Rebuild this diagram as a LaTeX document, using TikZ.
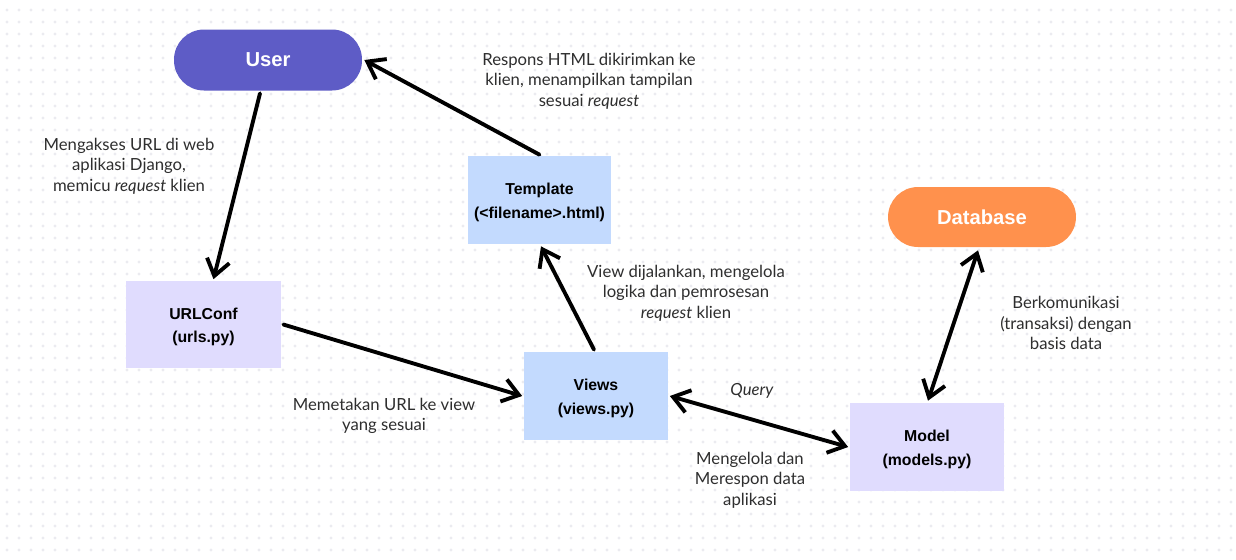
\documentclass[tikz,border=0pt]{standalone}
\usepackage{fontspec}
\setmainfont{Lato}
\newfontfamily\boxfont{Liberation Sans}
\usetikzlibrary{arrows.meta}

\definecolor{userc}{HTML}{5E5CC6}
\definecolor{dbc}{HTML}{FF914D}
\definecolor{bluec}{HTML}{C3DAFE}
\definecolor{lavc}{HTML}{E0DCFE}
\definecolor{dotc}{HTML}{EBEBF0}
\definecolor{txtc}{HTML}{2E2E2E}

\tikzset{
  pill/.style={rectangle, rounded corners=0.6cm, text=white, font=\boxfont\fontsize{11.5}{13}\selectfont\bfseries, inner sep=0pt},
  box/.style={rectangle, align=center, text=black, font=\boxfont\fontsize{9}{13.2}\selectfont\bfseries, inner sep=0pt},
  lbl/.style={align=center, text=txtc, font=\fontsize{9.5}{11.6}\selectfont},
  arr/.style={line width=2.2pt, line cap=round, line join=round, -{Straight Barb[length=3.2mm,width=4.6mm]}},
  arrboth/.style={arr, {Straight Barb[length=3.2mm,width=4.6mm]}-{Straight Barb[length=3.2mm,width=4.6mm]}}
}

\begin{document}
\begin{tikzpicture}[x=0.02cm, y=-0.02cm]
    \useasboundingbox (0,0) rectangle (1236,559);
    \fill[white] (0,0) rectangle (1236,559);
    % background dots
    \foreach \i in {0,...,102}
      \foreach \j in {0,...,45}
        \fill[dotc] (7+12*\i, 10+12*\j) circle (0.032cm);

    \begin{scope}
        \node[pill, fill=userc, minimum width=3.76cm, minimum height=1.22cm] (user) at (268,60) {User};
        \node[pill, fill=dbc, minimum width=3.76cm, minimum height=1.2cm] (database) at (982,217) {Database};

        \node[box, fill=bluec, minimum width=2.86cm, minimum height=1.76cm] (template) at (539.5,200) {\strut Template\\(<filename>.html)};
        \node[box, fill=lavc, minimum width=3.1cm, minimum height=1.74cm] (urlconf) at (203.5,324.5) {\strut URLConf\\(urls.py)};
        \node[box, fill=bluec, minimum width=2.88cm, minimum height=1.76cm] (views) at (596,396) {\strut Views\\(views.py)};
        \node[box, fill=lavc, minimum width=3.08cm, minimum height=1.76cm] (model) at (927,447) {\strut Model\\(models.py)};

        \draw[arr] ([xshift=-0.16cm,yshift=-0.05cm]user.south) -- ([xshift=0.2cm,yshift=0.03cm]urlconf.north); % user ke urlconf
        \draw[arr] ([xshift=0.04cm]urlconf.east) -- ([xshift=-0.03cm]views.west); % urlconf ke views
        \draw[arr] ([xshift=-0.04cm,yshift=0.04cm]views.north) -- ([xshift=0.03cm,yshift=-0.04cm]template.south); % views ke template
        \draw[arr] ([yshift=0.02cm]template.north) -- ([xshift=0.04cm]user.east); % template ke user
        \draw[arrboth] ([xshift=0.03cm]views.east) -- ([xshift=-0.03cm]model.west); % views dan model
        \draw[arrboth] ([xshift=-0.08cm,yshift=-0.06cm]database.south) -- ([xshift=0.02cm,yshift=0.04cm]model.north); % database dan model

        \node[lbl] (l-akses) at (129,166) {Mengakses URL di web\\aplikasi Django,\\memicu \textit{request} klien};
        \node[lbl] (l-respons) at (589,81) {Respons HTML dikirimkan ke\\klien, menampilkan tampilan\\sesuai \textit{request}};
        \node[lbl] (l-view) at (686,293) {View dijalankan, mengelola\\logika dan pemrosesan\\\textit{request} klien};
        \node[lbl] (l-db) at (1066,323) {Berkomunikasi\\(transaksi) dengan\\basis data};
        \node[lbl] (l-petakan) at (384,416) {Memetakan URL ke view\\yang sesuai};
        \node[lbl] (l-query) at (752,391) {\textit{Query}};
        \node[lbl] (l-kelola) at (750,480) {Mengelola dan\\Merespon data\\aplikasi};
    \end{scope}
\end{tikzpicture}
\end{document}
